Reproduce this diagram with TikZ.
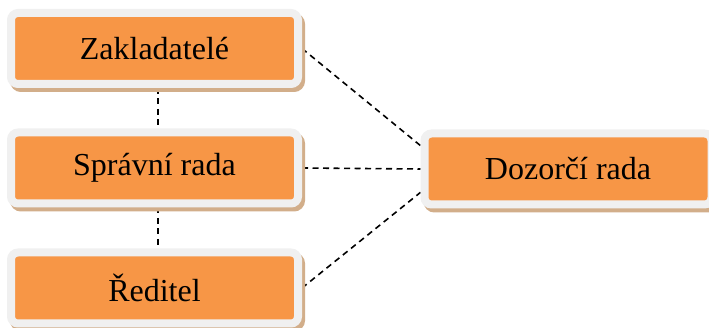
\documentclass[tikz,border=0pt]{standalone}
\usepackage{fontspec}
\setmainfont{Liberation Serif}
\usetikzlibrary{shadows,backgrounds,calc}
\definecolor{boxorange}{HTML}{F79646}
\definecolor{boxrim}{HTML}{F0F0F0}
\definecolor{boxshadow}{HTML}{D2AE8A}
\tikzset{
  orgbox/.style={
    draw=boxrim, fill=boxorange, line width=8pt, rounded corners=7pt,
    minimum width=287pt, minimum height=71pt, inner sep=0pt,
    font=\fontsize{32}{38}\selectfont,
    general shadow={shadow xshift=3pt, shadow yshift=-4pt,
      draw=boxshadow, fill=boxshadow, line width=8pt}
  },
  link/.style={black, line width=1.6pt, dash pattern=on 6pt off 4.5pt}
}
\begin{document}
\begin{tikzpicture}[x=1pt,y=-1pt]
\useasboundingbox (0,0) rectangle (709,328);
\node[orgbox] (z) at (154.5,48.5) {Zakladatelé};
\node[orgbox] (s) at (154.5,168) {Správní rada};
\node[orgbox] (r) at (154.5,288) {Ředitel};
\node[orgbox] (d) at (568,169) {Dozorčí rada};
\begin{scope}[on background layer]
\draw[link] ([xshift=3.5pt]z.south) -- ([xshift=3.5pt]s.north);
\draw[link] ([xshift=3.5pt]s.south) -- ([xshift=3.5pt]r.north);
\draw[link] (z.east) -- (d.171);
\draw[link] (s.east) -- (d.west);
\draw[link] (r.east) -- (d.189);
\end{scope}
\end{tikzpicture}
\end{document}
